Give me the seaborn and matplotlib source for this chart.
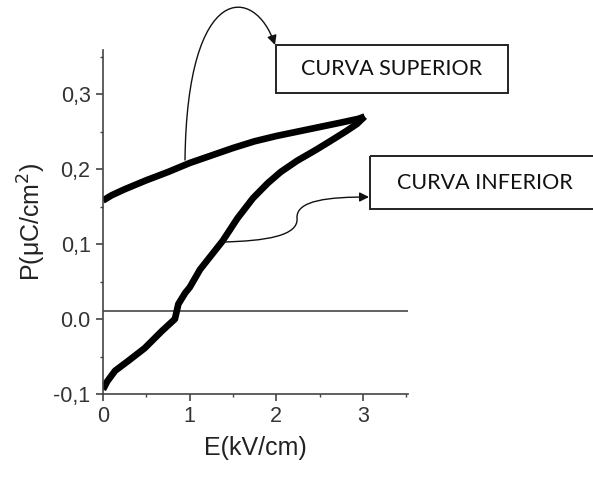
import numpy as np
import pandas as pd
import matplotlib
matplotlib.use("Agg")
import matplotlib.pyplot as plt
import seaborn as sns
from matplotlib.path import Path
from matplotlib.patches import FancyArrowPatch, Rectangle
from matplotlib.ticker import MultipleLocator, FixedLocator, FixedFormatter

# Hysteresis loop, field E (kV/cm) vs polarisation P (uC/cm^2)
e_upper = [0.0, 0.1, 0.25, 0.5, 0.75, 1.0, 1.25, 1.5, 1.75, 2.0, 2.25, 2.5, 2.75, 2.95, 3.02]
p_upper = [0.158, 0.165, 0.173, 0.185, 0.196, 0.208, 0.218, 0.228, 0.237, 0.244,
           0.250, 0.256, 0.262, 0.267, 0.270]

e_lower = [0.0, 0.05, 0.14, 0.29, 0.48, 0.68, 0.83, 0.87, 0.95, 1.0, 1.12, 1.38,
           1.55, 1.73, 1.9, 2.05, 2.24, 2.45, 2.62, 2.8, 2.93, 3.02]
p_lower = [-0.094, -0.083, -0.069, -0.056, -0.039, -0.016, 0.0, 0.02, 0.035, 0.042,
           0.066, 0.104, 0.134, 0.161, 0.181, 0.196, 0.211, 0.225, 0.237, 0.250,
           0.260, 0.270]

baseline_p = 0.011

y_ticks = [-0.1, 0.0, 0.1, 0.2, 0.3]
y_tick_labels = ["-0,1", "0.0", "0,1", "0,2", "0,3"]
x_ticks = [0, 1, 2, 3]
x_tick_labels = ["0", "1", "2", "3"]

label_upper = "CURVA SUPERIOR"
label_lower = "CURVA INFERIOR"

sns.set_style("white")
plt.rcParams["font.family"] = ["Liberation Sans", "DejaVu Sans"]

W, H = 593, 478
fig = plt.figure(figsize=(W / 100, H / 100), dpi=100)
ax = fig.add_axes([103 / W, 1 - 394 / H, 305 / W, 344 / H])

loop = pd.concat([
    pd.DataFrame({"E": e_upper, "P": p_upper, "branch": "upper"}),
    pd.DataFrame({"E": e_lower, "P": p_lower, "branch": "lower"}),
])
sns.lineplot(data=loop, x="E", y="P", units="branch", estimator=None, sort=False,
             color="black", linewidth=4.8, solid_capstyle="butt",
             solid_joinstyle="round", ax=ax, legend=False)

ax.axhline(baseline_p, color="#555555", linewidth=1.3, zorder=1)

ax.set_xlim(0, 3.52)
ax.set_ylim(-0.1, 0.3587)
ax.xaxis.set_major_locator(FixedLocator(x_ticks))
ax.xaxis.set_major_formatter(FixedFormatter(x_tick_labels))
ax.xaxis.set_minor_locator(MultipleLocator(0.5))
ax.yaxis.set_major_locator(FixedLocator(y_ticks))
ax.yaxis.set_major_formatter(FixedFormatter(y_tick_labels))
ax.yaxis.set_minor_locator(MultipleLocator(0.05))

for side in ("top", "right"):
    ax.spines[side].set_visible(False)
for side in ("left", "bottom"):
    ax.spines[side].set_color("#444444")
    ax.spines[side].set_linewidth(1.2)

ax.tick_params(which="major", direction="out", length=5, width=1.2, color="#444444",
               labelsize=15.5, labelcolor="#333333", pad=4)
ax.tick_params(which="minor", direction="out", length=2.5, width=1.0, color="#444444")
ax.tick_params(axis="x", which="both", bottom=True)
ax.tick_params(axis="y", which="both", left=True)

ax.set_xlabel("E(kV/cm)", fontsize=18, color="#222222", labelpad=6)
ax.set_ylabel("P(\u03bcC/cm$^2$)", fontsize=18, color="#222222", labelpad=4)

# Overlay in pixel units for the callout boxes and arrows
ov = fig.add_axes([0, 0, 1, 1], facecolor="none")
ov.set_xlim(0, W)
ov.set_ylim(H, 0)
ov.axis("off")

ov.add_patch(Rectangle((276, 45), 232, 48, fill=False, edgecolor="#222222", linewidth=1.4))
ov.text(392, 69, label_upper, family="Lato", fontsize=15.5, color="#111111",
        ha="center", va="center")

ov.add_patch(Rectangle((370, 156), 240, 53, fill=False, edgecolor="#222222",
                       linewidth=1.4, clip_on=False))
ov.text(485, 183, label_lower, family="Lato", fontsize=15.5, color="#111111",
        ha="center", va="center")

arrow_up = Path([(185, 160), (187, -20), (255, -15), (275, 45)],
                [Path.MOVETO, Path.CURVE4, Path.CURVE4, Path.CURVE4])
ov.add_patch(FancyArrowPatch(path=arrow_up, arrowstyle="-|>", mutation_scale=14,
                             color="#111111", linewidth=1.0))

arrow_low = Path([(223, 242), (265, 241), (299, 236), (297, 218),
                  (296, 200), (330, 197), (369, 197)],
                 [Path.MOVETO, Path.CURVE4, Path.CURVE4, Path.CURVE4,
                  Path.CURVE4, Path.CURVE4, Path.CURVE4])
ov.add_patch(FancyArrowPatch(path=arrow_low, arrowstyle="-|>", mutation_scale=14,
                             color="#111111", linewidth=1.0))

fig.savefig("out.png", dpi=100)
